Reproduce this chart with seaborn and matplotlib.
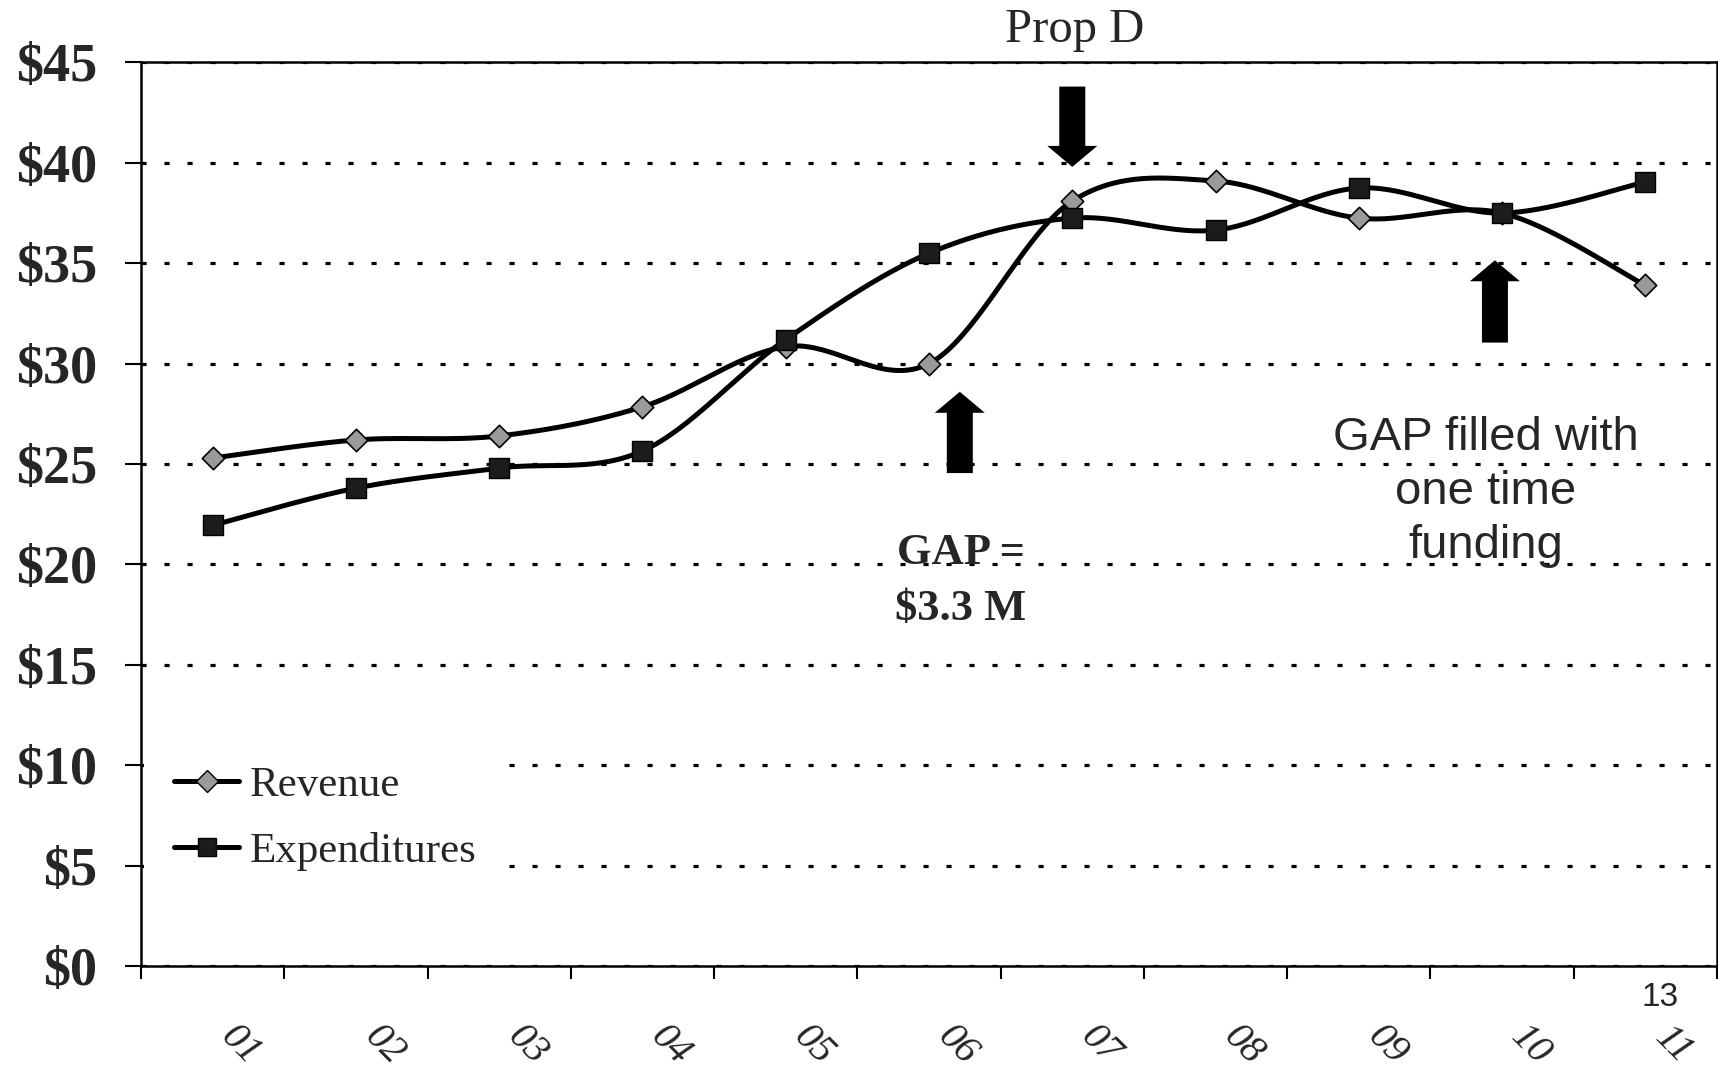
import numpy as np
import pandas as pd
import matplotlib
matplotlib.use("Agg")
import matplotlib.pyplot as plt
import seaborn as sns
from matplotlib.lines import Line2D
from matplotlib.transforms import ScaledTranslation

# ---------------- data ----------------
years = ['01', '02', '03', '04', '05', '06', '07', '08', '09', '10', '11']
revenue = [25.3, 26.2, 26.4, 27.85, 30.85, 30.0, 38.1, 39.1, 37.25, 37.5, 33.9]
expenditures = [21.95, 23.8, 24.8, 25.65, 31.2, 35.5, 37.25, 36.65, 38.75, 37.5, 39.05]
y_ticks = [0, 5, 10, 15, 20, 25, 30, 35, 40, 45]
y_tick_labels = ['$0', '$5', '$10', '$15', '$20', '$25', '$30', '$35', '$40', '$45']
series_names = ['Revenue', 'Expenditures']

df = pd.DataFrame({'year': years, 'idx': np.arange(len(years)),
                   'Revenue': revenue, 'Expenditures': expenditures})

# ---------------- style ----------------
sns.set_theme(style='white')
plt.rcParams['font.family'] = ['Liberation Serif', 'DejaVu Serif']
plt.rcParams['axes.edgecolor'] = 'black'

W, H = 1718, 1078
fig = plt.figure(figsize=(W / 100, H / 100), dpi=100)
fig.patch.set_facecolor('white')
L, R, T, B = 141, 1717, 62.5, 966
ax = fig.add_axes([L / W, 1 - B / H, (R - L) / W, (B - T) / H])
ax.set_facecolor('white')


def smooth(vals, n=40):
    """Excel-like smoothed line (Catmull-Rom Bezier through the points)."""
    y = np.asarray(vals, float)
    x = np.arange(len(y), dtype=float)
    P = np.column_stack([x, y])
    out = []
    t = np.linspace(0, 1, n)[:, None]
    for i in range(len(P) - 1):
        p0 = P[i - 1] if i > 0 else P[i]
        p1, p2 = P[i], P[i + 1]
        p3 = P[i + 2] if i + 2 < len(P) else P[i + 1]
        c1 = p1 + (p2 - p0) / 6.0
        c2 = p2 - (p3 - p1) / 6.0
        seg = (1 - t) ** 3 * p1 + 3 * (1 - t) ** 2 * t * c1 + 3 * (1 - t) * t ** 2 * c2 + t ** 3 * p2
        out.append(seg if i == 0 else seg[1:])
    return np.vstack(out)


LW = 3.6
for name in series_names:
    c = smooth(df[name])
    ax.plot(c[:, 0], c[:, 1], color='black', lw=LW, zorder=3, solid_capstyle='round')

sns.scatterplot(data=df, x='idx', y='Revenue', marker='D', s=130, color='#9a9a9a',
                edgecolor='black', linewidth=1.2, ax=ax, zorder=4, legend=False)
sns.scatterplot(data=df, x='idx', y='Expenditures', marker='s', s=200, color='#1c1c1c',
                edgecolor='black', linewidth=1.0, ax=ax, zorder=4, legend=False)

# ---------------- axes ----------------
ax.set_xlim(-0.5, len(years) - 0.5)
ax.set_ylim(0, 45)
ax.set_xlabel('')
ax.set_ylabel('')
for s in ax.spines.values():
    s.set_visible(True)
    s.set_color('black')
    s.set_linewidth(1.8)
    s.set_zorder(8)

ax.set_yticks(y_ticks)
ax.set_yticklabels(y_tick_labels)
ax.tick_params(axis='y', direction='out', length=11.5, width=1.5, pad=20,
               labelsize=39, color='black', left=True)
for lbl in ax.get_yticklabels():
    lbl.set_fontweight('bold')

ax.yaxis.grid(True, color='black', linestyle=(0, (1.6, 5.6)), linewidth=2.3)
ax.xaxis.grid(False)
ax.set_axisbelow(True)

ax.set_xticks(np.arange(-0.5, len(years), 1.0))
ax.set_xticklabels([])
ax.tick_params(axis='x', which='major', direction='out', length=9.5, width=1.5,
               color='black', bottom=True)
ax.set_xticks(np.arange(len(years)), minor=True)
ax.set_xticklabels(years, minor=True)
ax.tick_params(axis='x', which='minor', length=0, pad=57, labelsize=28.5, bottom=True)
off = ScaledTranslation(0.28, 0, fig.dpi_scale_trans)
for lbl in ax.get_xticklabels(minor=True):
    lbl.set_rotation(-45)
    lbl.set_ha('center')
    lbl.set_va('center')
    lbl.set_fontstyle('italic')
    lbl.set_transform(lbl.get_transform() + off)

# ---------------- legend ----------------
handles = [
    Line2D([], [], color='black', lw=LW, marker='D', ms=11.5, mfc='#9a9a9a', mec='black'),
    Line2D([], [], color='black', lw=LW, marker='s', ms=13.5, mfc='#1c1c1c', mec='black'),
]
leg = ax.legend(handles, series_names, loc='center left', bbox_to_anchor=(0.002, 0.163),
                frameon=True, facecolor='white', edgecolor='none', framealpha=1,
                fancybox=False, fontsize=31, handlelength=1.5, handletextpad=0.25,
                borderpad=0.7, labelspacing=0.62, borderaxespad=0)
leg.set_zorder(6)

# ---------------- annotations ----------------
arrow_style = 'simple,head_length=0.42,head_width=1.0,tail_width=0.52'
arrows = [((6.0, 43.8), (6.0, 39.8)),
          ((5.215, 24.55), (5.215, 28.6)),
          ((8.95, 31.05), (8.95, 35.15))]
for tail, tip in arrows:
    ax.annotate('', xy=tip, xytext=tail,
                arrowprops=dict(arrowstyle=arrow_style, mutation_scale=36, color='black',
                                shrinkA=0, shrinkB=0, lw=0),
                annotation_clip=False, zorder=5)

ax.text(6.02, 46.6, 'Prop D', ha='center', va='center', fontsize=35, clip_on=False)
ax.text(5.22, 20.57, 'GAP =', ha='center', va='center', fontsize=32, fontweight='bold')
ax.text(5.22, 17.78, '$3.3 M', ha='center', va='center', fontsize=32, fontweight='bold')
ax.text(8.886, 23.6, 'GAP filled with\none time\nfunding', ha='center', va='center',
        fontsize=34, family=['Liberation Sans', 'DejaVu Sans'], linespacing=1.3)
fig.text(1660 / W, 1 - 998 / H, '13', ha='center', va='center', fontsize=24,
         family=['Liberation Sans', 'DejaVu Sans'])

fig.savefig('out.png', dpi=100, facecolor='white')
